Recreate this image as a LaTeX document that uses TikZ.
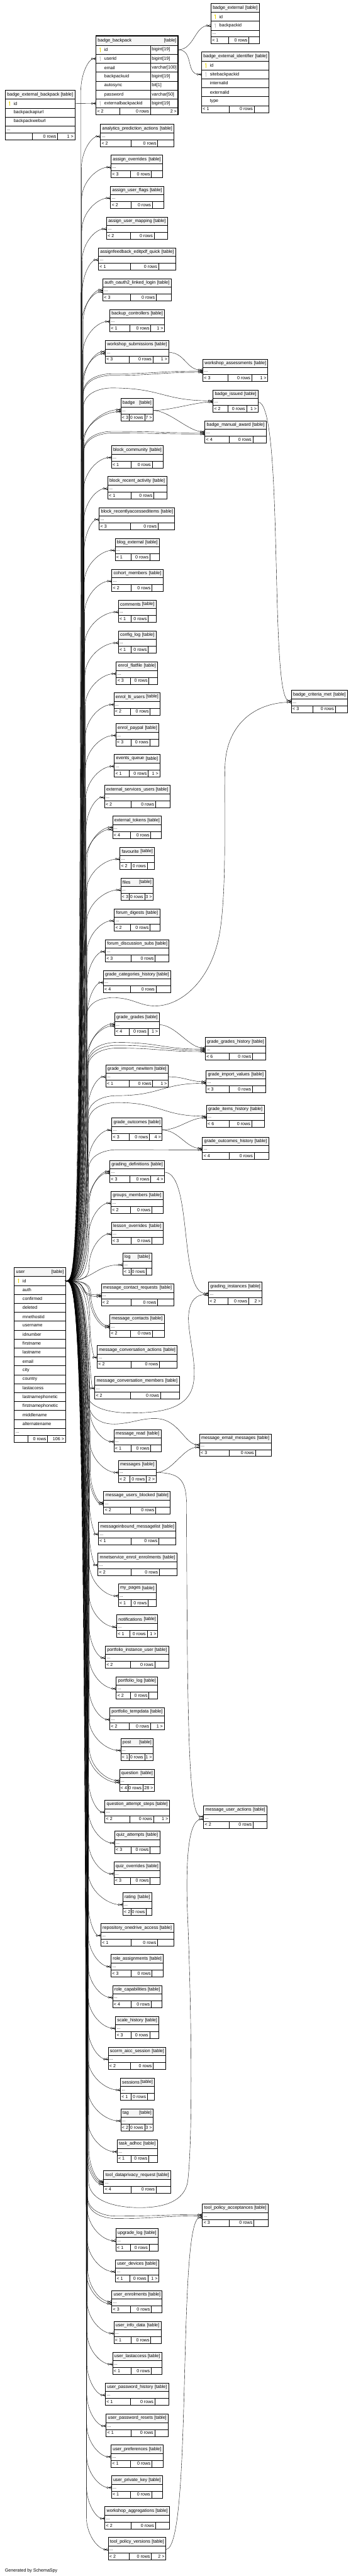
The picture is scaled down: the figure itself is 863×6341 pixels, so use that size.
\documentclass[tikz,border=0pt]{standalone}
\usepackage{fontspec}
\setmainfont{Liberation Sans}
\usetikzlibrary{arrows.meta,calc}

\definecolor{HeadFill}{RGB}{245,245,245}
\definecolor{KeyGold}{RGB}{236,214,0}
\definecolor{KeyGray}{RGB}{196,196,196}
\newcommand{\tablefont}{\fontsize{11pt}{13pt}\selectfont}

% header of a table
\newcommand{\dbhead}[5]{% name, left, top, width, height
  \node[tabhead, minimum width=#4pt, minimum height=#5pt, anchor=north west] (#1) at (#2,#3) {};
  \node[celltext, anchor=west] at ([xshift=4.5pt]#1.west) {\detokenize{#1}};
  \node[celltext, anchor=east] at ([xshift=-4pt]#1.east) {[table]};
}
% a column row, with an optional key
\newcommand{\keyicon}[2]{%
  \fill[#2] ([xshift=10.5pt,yshift=3.5pt]#1.west) ellipse [x radius=1.5pt, y radius=2.3pt];
  \draw[#2, line width=1.1pt] ([xshift=10.5pt,yshift=2pt]#1.west) -- ([xshift=10.5pt,yshift=-5.5pt]#1.west);
}
\newcommand{\dbrow}[5]{% node, row above, width, text, key colour
  \node[tabrow, minimum width=#3pt, minimum height=22pt, anchor=north] (#1) at (#2.south) {};
  \node[celltext, anchor=west] at ([xshift=20.5pt]#1.west) {#4};
  \if\relax\detokenize{#5}\relax\else\keyicon{#1}{#5}\fi
}
\newcommand{\dbdots}[3]{% table, row above, width
  \node[tabrow, minimum width=#3pt, minimum height=17pt, anchor=north] (#1-dots) at (#2.south) {};
  \node[celltext, anchor=west] at ([xshift=3pt,yshift=-2pt]#1-dots.west) {...};
}
% footer: < parents | 0 rows | children >
\newcommand{\tabfootat}[7]{% table, row above, width, 1st divider, 2nd divider, parents, children
  \node[tabrow, minimum width=#3pt, minimum height=17pt, anchor=north] (#1-foot) at (#2.south) {};
  \draw[tabline] ([xshift=#4pt]#1-foot.north west) -- ([xshift=#4pt]#1-foot.south west);
  \draw[tabline] ([xshift=#5pt]#1-foot.north west) -- ([xshift=#5pt]#1-foot.south west);
  \if\relax\detokenize{#6}\relax\else\node[celltext, anchor=west] at ([xshift=3pt]#1-foot.west) {< #6};\fi
  \node[celltext, anchor=east] at ([xshift=#5pt-3pt]#1-foot.west) {0 rows};
  \if\relax\detokenize{#7}\relax\else\node[celltext, anchor=east] at ([xshift=-3pt]#1-foot.east) {#7 >};\fi
}
\newcommand{\tabfoot}[5]{% table, row above, width, parents, children
  \if\relax\detokenize{#5}\relax\def\ftR{15}\else\ifnum#5>9 \def\ftR{28}\else\def\ftR{21}\fi\fi
  \pgfmathsetmacro\ftE{max(#3-58-\ftR,0)}%
  \pgfmathsetmacro\ftL{21+0.5*\ftE}%
  \pgfmathsetmacro\ftM{\ftL+37+0.27*\ftE}%
  \tabfootat{#1}{#2}{#3}{\ftL}{\ftM}{#4}{#5}%
}
\newcommand{\dbtable}[6]{% name, left, top, width, parents, children
  \dbhead{#1}{#2}{#3}{#4}{21}%
  \dbdots{#1}{#1}{#4}%
  \tabfoot{#1}{#1-dots}{#4}{#5}{#6}%
}

% links
\newcommand{\tine}[1]{\draw[tine] (#1) -- +(-10pt,0pt);}
\newcommand{\userlink}[2][0]{% user.id up or down the bundle to row #2
  \tine{[yshift=#1pt]#2.west}
  \draw[fk] let \p1=([yshift=#1pt]#2.west), \p2=(user-id.east),
      \n1={(\y1>\y2) ? 1 : -1},
      \n2={(\y1>\y2) ? (220-0.007*abs(\y1-\y2)+0.8*(#1)) : (222-0.003*abs(\y1-\y2)+0.8*(#1))},
      \n3={\y1-\n1*80},
      \n4={0.45*(\x1-\n2)} in
    (user-id.east) .. controls +(30pt,0pt) and ({\n2*1pt},\y2) .. ({\n2*1pt},{\n3*1pt})
    .. controls +(0pt,{\n1*45pt}) and +({-\n4*1pt},0pt) .. ([yshift=#1pt]#2.west);
}
\newcommand{\farlink}[3][0]{% user.id through the gap at height #3 to row #2
  \tine{[yshift=#1pt]#2.west}
  \draw[fk] let \p1=([yshift=#1pt]#2.west), \p2=(user-id.east),
      \n1={(\y1>\y2) ? 1 : -1},
      \n2={(\y1>\y2) ? (220-0.007*abs(\y1-\y2)) : (222-0.003*abs(\y1-\y2))},
      \n3={-#3},
      \n4={0.5*(\x1-\n2-70)} in
    (user-id.east) .. controls +(30pt,0pt) and ({\n2*1pt},\y2) .. ({\n2*1pt},{\n3*1pt-\n1*50pt})
    .. controls +(0pt,{\n1*40pt}) and +(-25pt,0pt) .. ({\n2*1pt+70pt},{\n3*1pt})
    .. controls +({\n4*1pt},0pt) and +({-\n4*1pt},0pt) .. ([yshift=#1pt]#2.west);
}
\newcommand{\nearlink}[2][0]{%
  \tine{[yshift=#1pt]#2.west}
  \draw[fk] (user-id.east) .. controls +(70pt,0pt) and +(-70pt,0pt) .. ([yshift=#1pt]#2.west);
}
\newcommand{\fklink}[3][0]{% row #2 to row #3
  \tine{[yshift=#1pt]#3.west}
  \draw[fk] (#2.east) .. controls +(40pt,0pt) and +(-40pt,0pt) .. ([yshift=#1pt]#3.west);
}

\begin{document}
\begin{tikzpicture}[x=1pt, y=-1pt,
    tabhead/.style={draw, fill=HeadFill, line width=0.9pt, inner sep=0pt, outer sep=0pt},
    tabrow/.style={draw, fill=white, line width=0.9pt, inner sep=0pt, outer sep=0pt},
    tabline/.style={line width=0.9pt},
    celltext/.style={inner sep=0pt, font=\tablefont},
    fk/.style={line width=0.6pt, -{Circle[fill=white,length=5pt,width=5pt] Straight Barb[reversed,length=6pt,width=7pt]}},
    tine/.style={line width=0.6pt}
  ]
  \fill[white] (0,0) rectangle (863,6341);
  \useasboundingbox (0,0) rectangle (863,6341);

  % badge_backpack
  \dbhead{badge_backpack}{236}{88.5}{202}{23}
  \dbrow{badge_backpack-id}{badge_backpack}{202}{id}{KeyGold}
  \dbrow{badge_backpack-userid}{badge_backpack-id}{202}{userid}{KeyGray}
  \dbrow{badge_backpack-email}{badge_backpack-userid}{202}{email}{}
  \dbrow{badge_backpack-backpackuid}{badge_backpack-email}{202}{backpackuid}{}
  \dbrow{badge_backpack-autosync}{badge_backpack-backpackuid}{202}{autosync}{}
  \dbrow{badge_backpack-password}{badge_backpack-autosync}{202}{password}{}
  \dbrow{badge_backpack-externalbackpackid}{badge_backpack-password}{202}{externalbackpackid}{KeyGray}
  \foreach \c/\t in {id/bigint[19], userid/bigint[19], email/varchar[100], backpackuid/bigint[19],
      autosync/bit[1], password/varchar[50], externalbackpackid/bigint[19]}
    \node[celltext, anchor=west] at ([xshift=137.5pt]badge_backpack-\c.west) {\t};
  \draw[tabline] ([xshift=134pt]badge_backpack-id.north west) -- ([xshift=134pt]badge_backpack-externalbackpackid.south west);
  \tabfootat{badge_backpack}{badge_backpack-externalbackpackid}{202}{59}{134}{2}{2}
  \draw[line width=2.6pt] (badge_backpack.north west) rectangle (badge_backpack-foot.south east);

  % badge tables beside it
  \dbhead{badge_external}{519}{8}{119}{22}
  \dbrow{badge_external-id}{badge_external}{119}{id}{KeyGold}
  \dbrow{badge_external-backpackid}{badge_external-id}{119}{backpackid}{KeyGray}
  \dbdots{badge_external}{badge_external-backpackid}{119}
  \tabfoot{badge_external}{badge_external-dots}{119}{1}{}

  \dbhead{badge_external_identifier}{496}{128}{166}{22}
  \dbrow{badge_external_identifier-id}{badge_external_identifier}{166}{id}{KeyGold}
  \dbrow{badge_external_identifier-sitebackpackid}{badge_external_identifier-id}{166}{sitebackpackid}{KeyGray}
  \dbrow{badge_external_identifier-internalid}{badge_external_identifier-sitebackpackid}{166}{internalid}{}
  \dbrow{badge_external_identifier-externalid}{badge_external_identifier-internalid}{166}{externalid}{}
  \dbrow{badge_external_identifier-type}{badge_external_identifier-externalid}{166}{type}{}
  \tabfoot{badge_external_identifier}{badge_external_identifier-type}{166}{1}{}

  \dbhead{badge_external_backpack}{13}{222}{171}{22}
  \dbrow{badge_external_backpack-id}{badge_external_backpack}{171}{id}{KeyGold}
  \dbrow{badge_external_backpack-backpackapiurl}{badge_external_backpack-id}{171}{backpackapiurl}{}
  \dbrow{badge_external_backpack-backpackweburl}{badge_external_backpack-backpackapiurl}{171}{backpackweburl}{}
  \dbdots{badge_external_backpack}{badge_external_backpack-backpackweburl}{171}
  \tabfoot{badge_external_backpack}{badge_external_backpack-dots}{171}{}{1}

  % user
  \dbhead{user}{35}{3120}{126}{22}
  \dbrow{user-id}{user}{126}{id}{KeyGold}
  \foreach \c [remember=\c as \p (initially id)] in {auth, confirmed, deleted, mnethostid, username,
      idnumber, firstname, lastname, email, city, country, lastaccess, lastnamephonetic,
      firstnamephonetic, middlename, alternatename}
    {\dbrow{user-\c}{user-\p}{126}{\c}{}}
  \dbdots{user}{user-alternatename}{126}
  \tabfootat{user}{user-dots}{126}{33.5}{82}{}{106}

  % Tables that refer to user
  \dbtable{analytics_prediction_actions}{247}{306}{181}{2}{}
  \dbtable{assign_overrides}{273}{382}{127}{3}{}
  \dbtable{assign_user_flags}{272}{458}{131}{2}{}
  \dbtable{assign_user_mapping}{262}{534}{150}{2}{}
  \dbtable{assignfeedback_editpdf_quick}{242}{610}{190}{1}{}
  \dbtable{auth_oauth2_linked_login}{253}{686}{168}{3}{}
  \dbtable{backup_controllers}{270}{762}{135}{1}{1}
  \dbtable{workshop_submissions}{259}{838}{156}{3}{1}
  \dbtable{badge}{297}{981}{80}{3}{7}
  \dbtable{block_community}{274}{1097}{128}{1}{}
  \dbtable{block_recent_activity}{265}{1173}{145}{1}{}
  \dbtable{block_recentlyaccesseditems}{244}{1249}{186}{3}{}
  \dbtable{blog_external}{283}{1325}{109}{1}{}
  \dbtable{cohort_members}{275}{1401}{126}{2}{}
  \dbtable{comments}{291}{1477}{93}{1}{}
  \dbtable{config_log}{291}{1553}{93}{1}{}
  \dbtable{enrol_flatfile}{286}{1629}{102}{3}{}
  \dbtable{enrol_lti_users}{280}{1705}{114}{2}{}
  \dbtable{enrol_paypal}{285}{1781}{106}{3}{}
  \dbtable{events_queue}{281}{1857}{112}{1}{1}
  \dbtable{external_services_users}{257}{1933}{161}{2}{}
  \dbtable{external_tokens}{277}{2009}{120}{4}{}
  \dbtable{favourite}{295}{2085}{85}{2}{}
  \dbtable{files}{297}{2161}{80}{3}{3}
  \dbtable{forum_digests}{281}{2237}{112}{2}{}
  \dbtable{forum_discussion_subs}{259}{2313}{157}{3}{}
  \dbtable{grade_categories_history}{254}{2389}{166}{4}{}
  \dbtable{grade_grades}{282}{2493}{110}{4}{1}
  \dbtable{grade_import_newitem}{260}{2621}{154}{1}{1}
  \dbtable{grade_outcomes}{275}{2752}{124}{3}{4}
  \dbtable{grading_definitions}{270}{2856}{135}{3}{4}
  \dbtable{groups_members}{273}{2932}{128}{2}{}
  \dbtable{lesson_overrides}{274}{3008}{127}{3}{}
  \dbtable{log}{302}{3084}{71}{1}{}
  \dbtable{message_contact_requests}{249}{3160}{178}{2}{}
  \dbtable{message_contacts}{270}{3236}{134}{2}{}
  \dbtable{message_conversation_actions}{239}{3312}{197}{2}{}
  \dbtable{message_conversation_members}{233}{3388}{208}{2}{}
  \dbtable{message_read}{280}{3519}{116}{1}{}
  \dbtable{messages}{291}{3595}{93}{2}{2}
  \dbtable{message_users_blocked}{255}{3671}{164}{2}{}
  \dbtable{messageinbound_messagelist}{242}{3747}{191}{1}{}
  \dbtable{mnetservice_enrol_enrolments}{241}{3823}{194}{2}{}
  \dbtable{my_pages}{291}{3899}{93}{1}{}
  \dbtable{notifications}{287}{3975}{101}{1}{1}
  \dbtable{portfolio_instance_user}{259}{4051}{156}{2}{}
  \dbtable{portfolio_log}{286}{4127}{102}{2}{}
  \dbtable{portfolio_tempdata}{270}{4203}{134}{2}{1}
  \dbtable{post}{297}{4279}{80}{1}{1}
  \dbtable{question}{294}{4355}{86}{4}{28}
  \dbtable{question_attempt_steps}{258}{4431}{159}{2}{1}
  \dbtable{quiz_attempts}{282}{4507}{111}{3}{}
  \dbtable{quiz_overrides}{280}{4583}{114}{3}{}
  \dbtable{rating}{302}{4659}{71}{2}{}
  \dbtable{repository_onedrive_access}{248}{4735}{179}{1}{}
  \dbtable{role_assignments}{273}{4811}{129}{3}{}
  \dbtable{role_capabilities}{277}{4887}{121}{4}{}
  \dbtable{scale_history}{284}{4963}{107}{3}{}
  \dbtable{scorm_aicc_session}{266}{5039}{142}{2}{}
  \dbtable{sessions}{296}{5115}{84}{1}{}
  \dbtable{tag}{297}{5191}{80}{2}{3}
  \dbtable{task_adhoc}{288}{5267}{99}{1}{}
  \dbtable{tool_dataprivacy_request}{255}{5343}{165}{4}{}
  \dbtable{upgrade_log}{285}{5486}{104}{1}{}
  \dbtable{user_devices}{284}{5562}{107}{1}{1}
  \dbtable{user_enrolments}{275}{5638}{124}{3}{}
  \dbtable{user_info_data}{280}{5714}{116}{1}{}
  \dbtable{user_lastaccess}{277}{5790}{121}{1}{}
  \dbtable{user_password_history}{259}{5866}{156}{1}{}
  \dbtable{user_password_resets}{261}{5942}{153}{1}{}
  \dbtable{user_preferences}{273}{6018}{128}{1}{}
  \dbtable{user_private_key}{274}{6094}{126}{1}{}
  \dbtable{workshop_aggregations}{258}{6170}{159}{2}{}
  \dbtable{tool_policy_versions}{266}{6246}{142}{2}{2}

  % Second level
  \dbtable{workshop_assessments}{499}{884}{160}{3}{1}
  \dbtable{badge_issued}{524}{960}{111}{2}{1}
  \dbtable{badge_manual_award}{504}{1036}{151}{4}{}
  \dbtable{badge_criteria_met}{717}{1699}{138}{3}{}
  \dbtable{grade_grades_history}{505}{2554}{149}{6}{}
  \dbtable{grade_import_values}{507}{2635}{146}{3}{}
  \dbtable{grade_items_history}{508}{2720}{142}{6}{}
  \dbtable{grade_outcomes_history}{498}{2799}{163}{4}{}
  \dbtable{grading_instances}{513}{3156}{132}{2}{2}
  \dbtable{message_email_messages}{491}{3530}{176}{3}{}
  \dbtable{message_user_actions}{501}{4445}{156}{2}{}
  \dbtable{tool_policy_acceptances}{498}{5425}{162}{3}{}

  \node[celltext, anchor=west] (credit) at (12,6328) {Generated by SchemaSpy};

  % Connections from user.id
  \foreach \t/\s in {badge_backpack-userid/0, analytics_prediction_actions-dots/0, assign_overrides-dots/0,
      assign_user_flags-dots/0, assign_user_mapping-dots/0, assignfeedback_editpdf_quick-dots/0,
      auth_oauth2_linked_login-dots/2, auth_oauth2_linked_login-dots/-3, backup_controllers-dots/0,
      workshop_submissions-dots/2, workshop_submissions-dots/-3, badge-dots/2, badge-dots/-3,
      block_community-dots/0, block_recent_activity-dots/0, block_recentlyaccesseditems-dots/0,
      blog_external-dots/0, cohort_members-dots/0, comments-dots/0, config_log-dots/0,
      enrol_flatfile-dots/0, enrol_lti_users-dots/0, enrol_paypal-dots/0, events_queue-dots/0,
      external_services_users-dots/0, external_tokens-dots/2, external_tokens-dots/-3,
      favourite-dots/0, files-dots/0, forum_digests-dots/0, forum_discussion_subs-dots/0,
      grade_categories_history-dots/0, grade_grades-dots/2, grade_grades-dots/-3,
      grade_import_newitem-dots/0, grade_outcomes-dots/0, grading_definitions-dots/2,
      grading_definitions-dots/-2, groups_members-dots/0, lesson_overrides-dots/0,
      message_contacts-dots/2, message_contacts-dots/-2, message_conversation_actions-dots/0,
      message_conversation_members-dots/0, message_read-dots/0, messages-dots/0,
      message_users_blocked-dots/2, message_users_blocked-dots/-2, messageinbound_messagelist-dots/0,
      mnetservice_enrol_enrolments-dots/0, my_pages-dots/0, notifications-dots/0,
      portfolio_instance_user-dots/0, portfolio_log-dots/0, portfolio_tempdata-dots/0, post-dots/0,
      question-dots/2, question-dots/-3, question_attempt_steps-dots/0, quiz_attempts-dots/0,
      quiz_overrides-dots/0, rating-dots/0, repository_onedrive_access-dots/0, role_assignments-dots/0,
      role_capabilities-dots/0, scale_history-dots/0, scorm_aicc_session-dots/0, sessions-dots/0,
      tag-dots/0, task_adhoc-dots/0, tool_dataprivacy_request-dots/4, tool_dataprivacy_request-dots/0,
      tool_dataprivacy_request-dots/-4, upgrade_log-dots/0, user_devices-dots/0,
      user_enrolments-dots/2, user_enrolments-dots/-3, user_info_data-dots/0, user_lastaccess-dots/0,
      user_password_history-dots/0, user_password_resets-dots/0, user_preferences-dots/0,
      user_private_key-dots/0, workshop_aggregations-dots/0, tool_policy_versions-dots/0}
    {\userlink[\s]{\t}}
  \nearlink{log-dots}
  \nearlink[2]{message_contact_requests-dots}
  \nearlink[-2]{message_contact_requests-dots}

  % through the gaps to the right column
  \farlink{workshop_assessments-dots}{920}
  \farlink[-3]{workshop_assessments-dots}{924}
  \farlink[3]{badge_issued-dots}{955}
  \farlink{badge_manual_award-dots}{1062}
  \farlink[-3]{badge_manual_award-dots}{1066}
  \farlink[1]{grade_grades_history-dots}{2566}
  \farlink[-2]{grade_grades_history-dots}{2573}
  \farlink[-5]{grade_grades_history-dots}{2580}
  \farlink[-2]{grade_import_values-dots}{2697}
  \farlink[2]{grade_items_history-dots}{2714}
  \farlink[-2]{grade_outcomes_history-dots}{2830}
  \farlink[3]{tool_policy_acceptances-dots}{5455}
  \farlink{tool_policy_acceptances-dots}{5461}

  % loops that climb back on the right
  \tine{badge_criteria_met-dots.west}
  \draw[fk] (user-id.east) .. controls +(30pt,0pt) and (206,3153) .. (208,2520)
    .. controls (210,2470) and (240,2455) .. (282,2456)
    .. controls (330,2457) and (345,2478) .. (387,2476)
    .. controls (450,2473) and (520,2410) .. (540,2300)
    .. controls (560,2190) and (550,1960) .. (554,1880)
    .. controls (560,1780) and (630,1730) .. (badge_criteria_met-dots.west);
  \tine{[yshift=-2pt]grading_instances-dots.west}
  \draw[fk] (user-id.east) .. controls +(30pt,0pt) and (212,3153) .. (212,3425)
    .. controls (213,3470) and (280,3479) .. (331,3478)
    .. controls (400,3477) and (455,3466) .. (472,3420)
    .. controls (490,3370) and (462,3290) .. (464,3240)
    .. controls (466,3200) and (485,3185) .. ([yshift=-2pt]grading_instances-dots.west);
  \tine{[yshift=3pt]message_email_messages-dots.west}
  \draw[fk] (user-id.east) .. controls +(30pt,0pt) and (214,3153) .. (216,3445)
    .. controls (218,3492) and (250,3508) .. (290,3505)
    .. controls (330,3502) and (350,3490) .. (387,3492)
    .. controls (440,3495) and (455,3555) .. ([yshift=3pt]message_email_messages-dots.west);
  \tine{[yshift=-3pt]message_user_actions-dots.west}
  \draw[fk] (user-id.east) .. controls +(30pt,0pt) and (216,3153) .. (218,5370)
    .. controls (219,5420) and (290,5436) .. (354,5434)
    .. controls (420,5432) and (455,5410) .. (462,5370)
    .. controls (476,5250) and (470,4900) .. (461,4700)
    .. controls (456,4540) and (470,4480) .. ([yshift=-3pt]message_user_actions-dots.west);

  % Connections between the other tables
  \fklink{badge_backpack-id}{badge_external-backpackid}
  \fklink{badge_backpack-id}{badge_external_identifier-sitebackpackid}
  \tine{badge_backpack-externalbackpackid.west}
  \draw[fk] (badge_external_backpack-id.east) -- (badge_backpack-externalbackpackid.west);
  \fklink[3]{workshop_submissions-dots}{workshop_assessments-dots}
  \fklink{badge-dots}{badge_issued-dots}
  \fklink[3]{badge-dots}{badge_manual_award-dots}
  \fklink[4]{grade_grades-dots}{grade_grades_history-dots}
  \fklink[2]{grade_import_newitem-dots}{grade_import_values-dots}
  \fklink[-2]{grade_outcomes-dots}{grade_items_history-dots}
  \fklink[2]{grade_outcomes-dots}{grade_outcomes_history-dots}
  \fklink[-3]{messages-dots}{message_email_messages-dots}
  \tine{[yshift=4pt]badge_criteria_met-dots.west}
  \draw[fk] (badge_issued-dots.east) .. controls (700,990) and (662,1725) .. ([yshift=4pt]badge_criteria_met-dots.west);
  \tine{[yshift=2pt]grading_instances-dots.west}
  \draw[fk] (grading_definitions-dots.east) .. controls (475,2887) and (440,3188) .. ([yshift=2pt]grading_instances-dots.west);
  \tine{[yshift=3pt]message_user_actions-dots.west}
  \draw[fk] (messages-dots.east) .. controls (440,3626) and (458,3640) .. (459,3700)
    .. controls (461,4300) and (465,4472) .. ([yshift=3pt]message_user_actions-dots.west);
  \tine{[yshift=-4pt]tool_policy_acceptances-dots.west}
  \draw[fk] (tool_policy_versions-dots.east) .. controls (475,6277) and (435,5460) .. ([yshift=-4pt]tool_policy_acceptances-dots.west);
\end{tikzpicture}
\end{document}
